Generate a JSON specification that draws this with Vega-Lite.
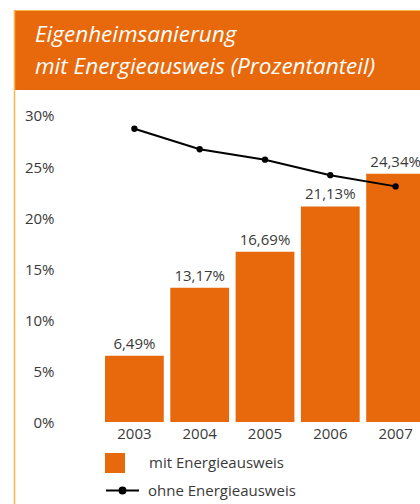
{
  "$schema": "https://vega.github.io/schema/vega-lite/v6.json",
  "padding": {"left": 14, "top": 10, "right": 0, "bottom": 0},
  "background": "white",
  "spacing": 0,
  "bounds": "flush",
  "config": {
    "view": {"stroke": null},
    "font": "Open Sans",
    "axis": {"labelFont": "Open Sans", "labelFontSize": 15, "labelColor": "#3a3a3a", "grid": false, "ticks": false, "tickSize": 0, "title": null},
    "legend": {"labelFont": "Open Sans", "labelFontSize": 15, "labelColor": "#3a3a3a", "padding": 0, "title": null}
  },
  "data": {"values": [
    {"jahr": "2003", "mit": 6.49, "ohne": 28.75},
    {"jahr": "2004", "mit": 13.17, "ohne": 26.74},
    {"jahr": "2005", "mit": 16.69, "ohne": 25.72},
    {"jahr": "2006", "mit": 21.13, "ohne": 24.2},
    {"jahr": "2007", "mit": 24.34, "ohne": 23.1}
  ]},
  "vconcat": [
    {
      "width": 406,
      "height": 80,
      "view": {"fill": "#E8690B", "stroke": null},
      "title": {
        "text": ["Eigenheimsanierung", "mit Energieausweis (Prozentanteil)"],
        "orient": "top",
        "anchor": "start",
        "frame": "group",
        "offset": -68,
        "dx": 21,
        "lineHeight": 32,
        "font": "Open Sans",
        "fontSize": 22.5,
        "fontStyle": "italic",
        "fontWeight": "normal",
        "color": "white"
      },
      "mark": {"type": "point", "opacity": 0},
      "encoding": {
        "y": {"aggregate": "min", "field": "mit", "type": "quantitative", "scale": {"domain": [0, 100]},
              "axis": {"domain": true, "domainColor": "#F7B54A", "domainWidth": 1.5, "labels": false, "ticks": false, "grid": false, "title": null}},
        "x": {"aggregate": "min", "field": "mit", "type": "quantitative", "scale": {"domain": [0, 100]},
              "axis": {"orient": "top", "domain": true, "domainColor": "#F7B54A", "domainWidth": 1, "labels": false, "ticks": false, "grid": false, "title": null}}
      }
    },
    {
      "width": 406,
      "height": 414,
      "encoding": {
        "x": {"field": "jahr", "type": "nominal", "sort": null,
              "scale": {"range": [91, 411], "paddingInner": 0.1, "paddingOuter": 0},
              "axis": {"orient": "bottom", "offset": -81, "domain": false, "labelAngle": 0, "labelPadding": 3, "labelBaseline": "top"}}
      },
      "layer": [
        {
          "mark": {"type": "bar", "clip": true},
          "encoding": {
            "y": {"field": "mit", "type": "quantitative",
                  "scale": {"domain": [-8.039, 32.549], "nice": false, "zero": false},
                  "axis": {"values": [0, 5, 10, 15, 20, 25, 30], "labelExpr": "datum.value + '%'", "domain": true, "domainColor": "#F7B54A", "domainWidth": 1.5, "labelPadding": -40, "labelAlign": "right", "labelBaseline": "middle"}},
            "fill": {"datum": "mit Energieausweis", "type": "nominal",
                     "scale": {"range": ["#E8690B"]},
                     "legend": {"orient": "none", "legendX": 91, "legendY": 443, "symbolType": "square", "symbolSize": 400, "symbolStrokeWidth": 0, "labelOffset": 24}}
          }
        },
        {
          "transform": [{"calculate": "replace(format(datum.mit, '.2f'), '.', ',') + '%'", "as": "label"}],
          "mark": {"type": "text", "clip": true, "baseline": "alphabetic", "dy": -7, "fontSize": 15, "color": "#3a3a3a", "font": "Open Sans"},
          "encoding": {
            "y": {"field": "mit", "type": "quantitative"},
            "text": {"field": "label"}
          }
        },
        {
          "mark": {"type": "line", "strokeWidth": 2, "clip": true},
          "encoding": {
            "y": {"field": "ohne", "type": "quantitative"},
            "stroke": {"datum": "ohne Energieausweis", "type": "nominal",
                       "scale": {"range": ["#000000"]},
                       "legend": {"orient": "none", "legendX": 91, "legendY": 463, "symbolType": "M-1,0H1M0.18,0A0.18,0.18,0,1,1,-0.18,0A0.18,0.18,0,1,1,0.18,0Z", "symbolSize": 1089, "symbolStrokeWidth": 2, "symbolFillColor": "#000000", "labelOffset": 8}}
          }
        },
        {
          "mark": {"type": "point", "filled": true, "size": 40, "color": "#000000", "opacity": 1, "clip": true},
          "encoding": {
            "y": {"field": "ohne", "type": "quantitative"}
          }
        }
      ]
    }
  ]
}
